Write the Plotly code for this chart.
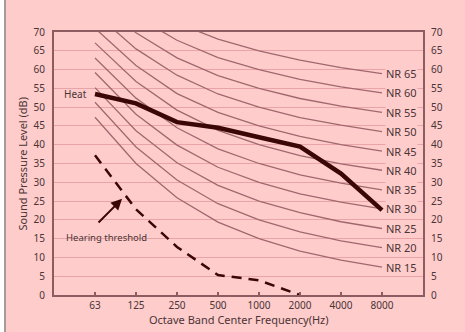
import plotly.graph_objects as go

freq_labels = ["63", "125", "250", "500", "1000", "2000", "4000", "8000"]

nr_names = ["NR 15", "NR 20", "NR 25", "NR 30", "NR 35", "NR 40",
            "NR 45", "NR 50", "NR 55", "NR 60", "NR 65"]
nr_15 = [47.3, 35.0, 25.9, 19.4, 15.0, 11.7, 9.3, 7.4]
nr_20 = [51.3, 39.4, 30.6, 24.3, 20.0, 16.8, 14.4, 12.6]
nr_25 = [55.2, 43.7, 35.2, 29.2, 25.0, 21.9, 19.5, 17.7]
nr_30 = [59.2, 48.1, 39.9, 34.0, 30.0, 26.9, 24.7, 22.9]
nr_35 = [63.1, 52.4, 44.5, 38.9, 35.0, 32.0, 29.8, 28.0]
nr_40 = [67.1, 56.8, 49.2, 43.8, 40.0, 37.1, 34.9, 33.2]
nr_45 = [71.0, 61.1, 53.6, 48.6, 45.0, 42.2, 40.0, 38.3]
nr_50 = [75.0, 65.5, 58.5, 53.5, 50.0, 47.2, 45.2, 43.5]
nr_55 = [78.9, 69.8, 63.1, 58.4, 55.0, 52.3, 50.3, 48.6]
nr_60 = [82.9, 74.2, 67.8, 63.2, 60.0, 57.4, 55.4, 53.8]
nr_65 = [86.8, 78.5, 72.4, 68.1, 65.0, 62.5, 60.5, 58.9]
nr_curves = [nr_15, nr_20, nr_25, nr_30, nr_35, nr_40,
             nr_45, nr_50, nr_55, nr_60, nr_65]

heat = [53.5, 51.0, 46.0, 44.5, 42.0, 39.5, 32.3, 22.6]
hearing_threshold = [37.2, 22.8, 12.8, 5.3, 3.9, 0.0]

y_ticks = [0, 5, 10, 15, 20, 25, 30, 35, 40, 45, 50, 55, 60, 65, 70]

BG = "#ffcccc"
AX = "#8c5c60"
NRC = "#a0686e"
DARK = "#3a0606"
TXT = "#4a3434"
FONT = "Noto Sans"

xs = list(range(len(freq_labels)))

fig = go.Figure()
for name, vals in zip(nr_names, nr_curves):
    fig.add_trace(go.Scatter(x=xs, y=vals, mode="lines",
                             line=dict(color=NRC, width=1.3),
                             showlegend=False, hoverinfo="skip"))
    fig.add_annotation(x=xs[-1], y=vals[-1], text=name, showarrow=False,
                       xanchor="left", yanchor="middle", xshift=3,
                       bgcolor=BG, borderpad=0,
                       font=dict(family=FONT, size=11, color=TXT))

fig.add_trace(go.Scatter(x=xs, y=heat, mode="lines",
                         line=dict(color=DARK, width=4.5),
                         showlegend=False, hoverinfo="skip"))
fig.add_trace(go.Scatter(x=xs[:len(hearing_threshold)], y=hearing_threshold,
                         mode="lines",
                         line=dict(color=DARK, width=2.5, dash="10px,7px"),
                         showlegend=False, hoverinfo="skip"))
# invisible trace for right axis
fig.add_trace(go.Scatter(x=[0], y=[0], yaxis="y2", mode="markers",
                         marker=dict(opacity=0), showlegend=False,
                         hoverinfo="skip"))

fig.add_annotation(x=-0.15, y=heat[0], text="Heat", showarrow=False,
                   xanchor="right", yanchor="middle",
                   font=dict(family=FONT, size=10, color=TXT))
fig.add_annotation(x=0.29, y=15.4, text="Hearing threshold", showarrow=False,
                   xanchor="center", yanchor="middle",
                   font=dict(family=FONT, size=9.5, color=TXT))
fig.add_annotation(x=0.66, y=25.6, ax=0.05, ay=18.9, axref="x", ayref="y",
                   xref="x", yref="y", text="", showarrow=True,
                   arrowhead=2, arrowsize=1.1, arrowwidth=2, arrowcolor=DARK)

# axis titles
fig.add_annotation(xref="paper", yref="paper", x=-0.0867, y=0.5,
                   text="Sound Pressure Level (dB)", textangle=-90,
                   showarrow=False, xanchor="center", yanchor="middle",
                   font=dict(family=FONT, size=11, color=TXT))
fig.add_annotation(xref="paper", yref="paper", x=0.5, y=-0.095,
                   text="Octave Band Center Frequency(Hz)",
                   showarrow=False, xanchor="center", yanchor="middle",
                   font=dict(family=FONT, size=11, color=TXT))

# left edge strip of the original image
fig.add_shape(type="rect", xref="paper", yref="paper",
              x0=-0.1463, x1=-0.1355, y0=-0.141, y1=1.122,
              fillcolor="white", line=dict(width=0), layer="above")
fig.add_shape(type="line", xref="paper", yref="paper",
              x0=-0.1328, x1=-0.1328, y0=-0.141, y1=1.122,
              line=dict(color="#8a8a8a", width=1.5), layer="above")

fig.update_layout(
    width=465, height=332,
    margin=dict(l=54, r=42, t=32, b=37),
    paper_bgcolor=BG, plot_bgcolor=BG,
    font=dict(family=FONT, size=10, color=TXT),
    showlegend=False,
    xaxis=dict(range=[-1, 8], tickvals=xs, ticktext=freq_labels,
               automargin=False,
               ticks="inside", ticklen=3, tickcolor=AX, tickwidth=1.5,
               showgrid=False, zeroline=False,
               showline=True, linecolor=AX, linewidth=2, mirror=True,
               tickfont=dict(family=FONT, size=10, color=TXT)),
    yaxis=dict(range=[0, 70], tickvals=y_ticks, ticks="",
               automargin=False,
               showgrid=True, gridcolor="#e8a4a8", gridwidth=1,
               zeroline=False,
               showline=True, linecolor=AX, linewidth=2, mirror=True,
               ticklabelstandoff=5,
               tickfont=dict(family=FONT, size=10, color=TXT)),
    yaxis2=dict(range=[0, 70], tickvals=y_ticks, overlaying="y",
                automargin=False,
                side="right", showgrid=False, zeroline=False,
                showline=False, ticks="", ticklabelstandoff=7,
                tickfont=dict(family=FONT, size=10, color=TXT)),
)

fig.write_html(
    "out.html",
    config={"displayModeBar": False},
    post_script="document.body.style.margin='0';"
                "document.documentElement.style.background='#ffcccc';"
                "document.body.style.background='#ffcccc';",
)
